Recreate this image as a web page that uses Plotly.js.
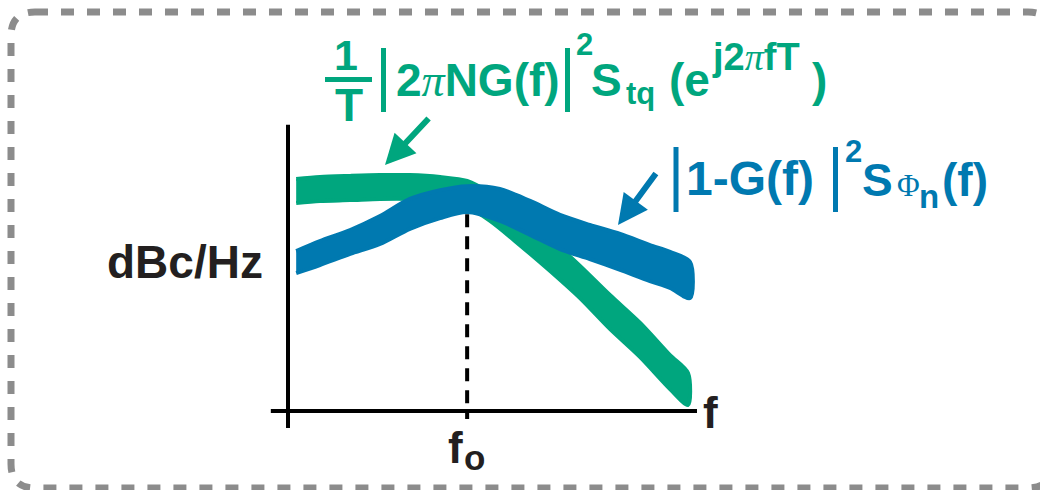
<!DOCTYPE html>
<html>
<head>
<meta charset="utf-8">
<script src="https://cdn.plot.ly/plotly-3.0.1.min.js"></script>
<style>html,body{margin:0;padding:0;background:#fff;}#chart{width:1040px;height:490px;}</style>
</head>
<body>
<div id="chart"></div>
<script>
// ---- data (normalized frequency, relative dB) ----
const greenX     = [0.20, 0.78, 1.52, 2.25, 2.98, 3.72, 4.38, 4.94, 5.67, 6.41, 7.14, 7.87, 8.61, 9.34, 9.78];
const greenUpper = [8.14, 8.21, 8.25, 8.28, 8.28, 8.21, 8.07, 7.65, 6.88, 6.04, 5.09, 4.07, 3.09, 1.96, 1.33];
const greenLower = [7.30, 7.37, 7.40, 7.44, 7.44, 7.37, 7.16, 6.67, 5.82, 4.91, 3.96, 2.88, 1.89, 0.77, 0.21];

const blueX     = [0.20, 0.78, 1.52, 2.25, 2.98, 3.72, 4.38, 5.18, 5.92, 6.65, 7.38, 8.12, 8.85, 9.34, 9.83];
const blueUpper = [5.61, 5.96, 6.35, 6.84, 7.44, 7.75, 7.89, 7.79, 7.37, 6.88, 6.53, 6.21, 5.82, 5.58, 5.23];
const blueLower = [4.84, 5.12, 5.51, 5.86, 6.39, 6.77, 6.98, 6.67, 6.18, 5.68, 5.33, 4.95, 4.56, 4.32, 3.96];

const f0 = 4.38;
const xAxisEnd = 10;
const yAxisEnd = 10.04;

const xLabel = 'f';
const f0Label = ['f', 'o'];
const yLabel = 'dBc/Hz';

const GREEN = '#00a67e';
const BLUE = '#0079b0';
const INK = '#231f20';
const W = 1040, H = 490;

// ---- helpers ----
function band(xs, up, lo, color) {
  return {
    type: 'scatter', mode: 'lines',
    x: xs.concat(xs.slice().reverse()),
    y: up.concat(lo.slice().reverse()),
    fill: 'toself', fillcolor: color,
    line: {color: color, width: 4, shape: 'spline', smoothing: 0.8},
    hoverinfo: 'skip', showlegend: false
  };
}
function px(x) { return x / W; }
function py(y) { return 1 - y / H; }
const SANS = 'Liberation Sans, Arial, sans-serif';
const SERIF = 'Liberation Serif, Times New Roman, serif';
function txt(text, x, y, size, color, xanchor, family) {
  return {xref: 'paper', yref: 'paper', x: px(x), y: py(y), text: text,
    showarrow: false, xanchor: xanchor || 'left', yanchor: 'middle',
    font: {family: family || SANS, size: size, color: color}};
}
function pline(x0, y0, x1, y1, color, width) {
  return {type: 'line', xref: 'paper', yref: 'paper', x0: px(x0), y0: py(y0), x1: px(x1), y1: py(y1),
    line: {color: color, width: width}, layer: 'above'};
}
const piG = '<span style="font-family:' + SERIF + ';font-style:italic;font-weight:normal">π</span>';

// ---- traces ----
const traces = [
  band(greenX, greenUpper, greenLower, GREEN),
  band(blueX, blueUpper, blueLower, BLUE)
];

// ---- border path (paper coords) ----
const bl = 11, bt = 12, br = 1052, bb = 488, r = 24;
function pt(x, y) { return px(x).toFixed(5) + ',' + py(y).toFixed(5); }
const borderPath = 'M' + pt(bl + r, bt) + ' L' + pt(br - r, bt) + ' Q' + pt(br, bt) + ' ' + pt(br, bt + r) +
  ' L' + pt(br, bb - r) + ' Q' + pt(br, bb) + ' ' + pt(br - r, bb) +
  ' L' + pt(bl + r, bb) + ' Q' + pt(bl, bb) + ' ' + pt(bl, bb - r) +
  ' L' + pt(bl, bt + r) + ' Q' + pt(bl, bt) + ' ' + pt(bl + r, bt) + ' Z';

const shapes = [
  {type: 'path', xref: 'paper', yref: 'paper', path: borderPath,
   line: {color: '#8c8c8c', width: 7, dash: '13px,13px'}, layer: 'below'},
  // f0 dashed marker
  {type: 'line', xref: 'x', yref: 'y', x0: f0, x1: f0, y0: 6.9, y1: -0.28,
   line: {color: '#000', width: 4, dash: '13px,9px'}, layer: 'below'},
  // axes
  {type: 'line', xref: 'x', yref: 'y', x0: 0, x1: 0, y0: -0.6, y1: yAxisEnd,
   line: {color: '#000', width: 4}, layer: 'below'},
  {type: 'line', xref: 'x', yref: 'y', x0: -0.42, x1: xAxisEnd, y0: 0, y1: 0,
   line: {color: '#000', width: 4}, layer: 'below'},
  // green formula: fraction bar and |.| bars
  pline(325, 79.5, 372, 79.5, GREEN, 5),
  pline(383.5, 48, 383.5, 112, GREEN, 5),
  pline(567.5, 48, 567.5, 112, GREEN, 5),
  // blue formula bars
  pline(676, 147, 676, 212, BLUE, 5),
  pline(835.5, 147, 835.5, 212, BLUE, 5)
];

const annotations = [
  // axis labels
  txt('<b>' + yLabel + '</b>', 185, 262, 46, INK, 'center'),
  txt('<b>' + xLabel + '</b>', 710, 412, 44, INK, 'center'),
  txt('<b>' + f0Label[0] + '</b>', 455, 447, 44, INK, 'center'),
  txt('<b>' + f0Label[1] + '</b>', 474, 457, 35, INK, 'center'),
  // green formula
  txt('<b>1</b>', 346, 55, 43, GREEN, 'center'),
  txt('<b>T</b>', 349, 105, 46, GREEN, 'center'),
  txt('<b>2' + piG + 'NG(f)</b>', 394, 80, 46, GREEN),
  txt('<b>2</b>', 584, 45, 31, GREEN, 'center'),
  txt('<b>S</b>', 589, 80, 46, GREEN),
  txt('<b>tq</b>', 624, 94, 31, GREEN),
  txt('<b>(e</b>', 667, 80, 46, GREEN),
  txt('<b>j2' + piG + 'fT</b>', 710, 57, 38, GREEN),
  txt('<b>)</b>', 810, 80, 46, GREEN),
  // blue formula
  txt('<b>1-G(f)</b>', 684, 179, 48, BLUE),
  txt('<b>2</b>', 853, 152, 31, BLUE, 'center'),
  txt('<b>S</b>', 860, 180, 46, BLUE),
  txt('Φ', 895, 185, 31, BLUE, 'left', SERIF),
  txt('<b>n</b>', 917, 197, 33, BLUE),
  txt('<b>(f)</b>', 940, 180, 46, BLUE),
  // arrows
  {xref: 'paper', yref: 'paper', x: px(385), y: py(165), text: '', showarrow: true,
   ax: 45, ay: -48, arrowhead: 2, arrowsize: 1, arrowwidth: 6, arrowcolor: GREEN},
  {xref: 'paper', yref: 'paper', x: px(618), y: py(225), text: '', showarrow: true,
   ax: 39, ay: -53, arrowhead: 2, arrowsize: 1, arrowwidth: 6, arrowcolor: BLUE}
];

const xPerPx = 10 / 409, yPerPx = 10 / 285;
const layout = {
  width: W, height: H,
  margin: {l: 0, r: 0, t: 0, b: 0, pad: 0},
  paper_bgcolor: '#fff', plot_bgcolor: '#fff',
  xaxis: {range: [-288 * xPerPx, (W - 288) * xPerPx], visible: false, fixedrange: true},
  yaxis: {range: [-(H - 411) * yPerPx, 411 * yPerPx], visible: false, fixedrange: true},
  shapes: shapes,
  annotations: annotations,
  showlegend: false,
  hovermode: false
};

Plotly.newPlot('chart', traces, layout, {staticPlot: true, displayModeBar: false});
</script>
</body>
</html>
